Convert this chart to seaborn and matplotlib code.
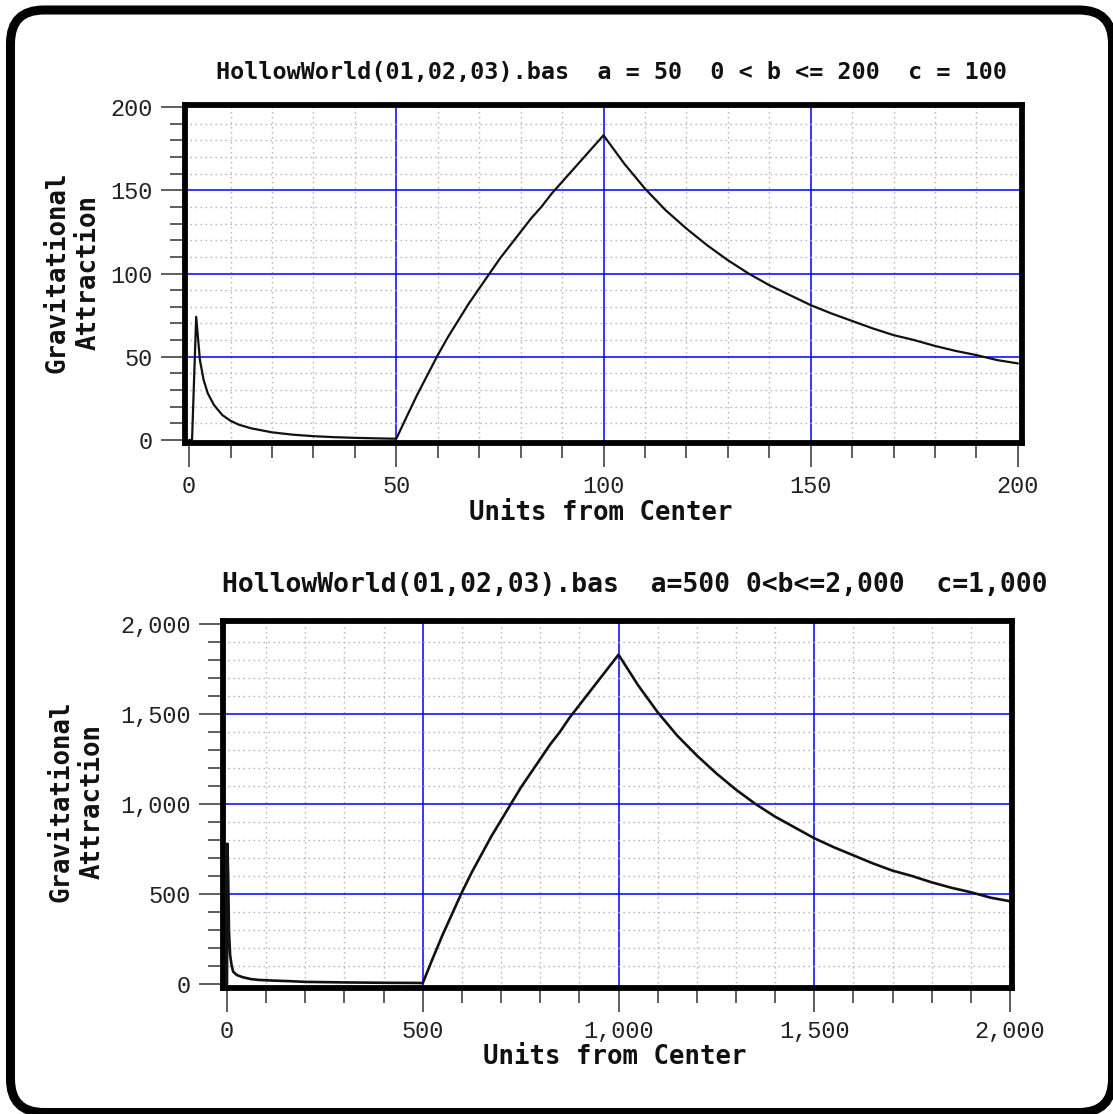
import numpy as np
import pandas as pd
import matplotlib
matplotlib.use("Agg")
import matplotlib.pyplot as plt
import seaborn as sns
from matplotlib.ticker import MultipleLocator, StrMethodFormatter
from matplotlib.patches import FancyBboxPatch

# ---------------- data ----------------
top_title = "HollowWorld(01,02,03).bas  a = 50  0 < b <= 200  c = 100"
bottom_title = "HollowWorld(01,02,03).bas  a=500 0<b<=2,000  c=1,000"
x_label = "Units from Center"
y_label = "Gravitational\nAttraction"

top_x = [0, 0.7, 1.7, 2.6, 3.5, 4.5, 6, 8, 10, 12, 15, 20, 25, 30, 35, 40, 45, 49,
         50, 52.5, 55, 57.5, 60, 62.5, 65, 67.5, 70, 72.5, 75, 77.5, 80, 82.5, 85,
         87.5, 90, 92.5, 95, 97.5, 100,
         105, 110, 115, 120, 125, 130, 135, 140, 145, 150, 155, 160, 165, 170,
         175, 180, 185, 190, 195, 200]
top_y = [0, 0, 74, 48, 36, 28, 21, 15, 11.5, 9.2, 7, 4.6, 3.2, 2.3, 1.7, 1.3, 1.0, 0.8,
         0.8, 14, 27, 39, 51, 62, 72, 82, 91, 100, 109, 117, 125, 133, 140,
         148, 155, 162, 169, 176, 183,
         166, 151, 138, 127, 117, 108, 100, 93, 87, 81, 76, 71.5, 67, 63,
         60, 56.5, 53.5, 51, 48, 46]

bottom_x = [0, 1, 3, 5, 8, 12, 16, 25, 40, 60, 80, 120, 160, 200, 300, 400, 490,
            500, 525, 550, 575, 600, 625, 650, 675, 700, 725, 750, 775, 800, 825,
            850, 875, 900, 925, 950, 975, 1000,
            1050, 1100, 1150, 1200, 1250, 1300, 1350, 1400, 1450, 1500, 1550,
            1600, 1650, 1700, 1750, 1800, 1850, 1900, 1950, 2000]
bottom_y = [0, 780, 600, 300, 160, 100, 68, 50, 38, 28, 23, 19, 16, 12, 9, 7, 6,
            5, 140, 270, 390, 510, 620, 720, 820, 910, 1000, 1090, 1170, 1250, 1330,
            1400, 1480, 1550, 1620, 1690, 1760, 1830,
            1660, 1510, 1380, 1270, 1170, 1080, 1000, 930, 870, 810, 760,
            715, 670, 630, 600, 565, 535, 510, 480, 460]

top_df = pd.DataFrame({"x": top_x, "y": top_y})
bottom_df = pd.DataFrame({"x": bottom_x, "y": bottom_y})

# ---------------- style ----------------
sns.set_style("white")
plt.rcParams["font.family"] = ["DejaVu Sans"]

W, H = 1113, 1114
fig = plt.figure(figsize=(W / 100, H / 100), dpi=100)
fig.patch.set_facecolor("white")

TICK_FONT = "Liberation Mono"
BOLD_FONT = "DejaVu Sans Mono"


def px_axes(left, top, right, bottom):
    return fig.add_axes([left / W, 1 - bottom / H, (right - left) / W, (bottom - top) / H])


def style(ax, xlim, ylim, major, minor, fmt=None):
    ax.set_xlim(*xlim)
    ax.set_ylim(*ylim)
    for axis in (ax.xaxis, ax.yaxis):
        axis.set_major_locator(MultipleLocator(major))
        axis.set_minor_locator(MultipleLocator(minor))
        if fmt:
            axis.set_major_formatter(StrMethodFormatter(fmt))
    ax.set_axisbelow(True)
    ax.grid(which="major", color="#0000ff", lw=1.1, ls="-")
    ax.grid(which="minor", color="#b0b0b0", lw=1.0, ls=(0, (1, 2.6)))
    # hide blue grid lines that coincide with the frame
    for axis, (lo, hi) in ((ax.xaxis, xlim), (ax.yaxis, ylim)):
        locs = [v for v in axis.get_majorticklocs()]
        ticks = axis.get_major_ticks(len(locs))
        for t, v in zip(ticks, locs):
            if abs(v) < 1e-9 or v >= hi - major * 0.05:
                t.gridline.set_visible(False)
    for s in ax.spines.values():
        s.set_linewidth(4.2)
        s.set_color("black")
        s.set_zorder(5)
    ax.tick_params(which="both", bottom=True, left=True, top=False, right=False,
                   direction="out", color="#333333", width=1.1)
    ax.tick_params(which="major", length=17, pad=6, labelsize=17,
                   labelcolor="#222222", labelfontfamily=TICK_FONT)
    ax.tick_params(which="minor", length=11)
    ax.set_xlabel(x_label, fontfamily=BOLD_FONT, fontweight="bold", fontsize=18.5, color="#111111")
    ax.set_ylabel(y_label, fontfamily=BOLD_FONT, fontweight="bold", fontsize=18.5,
                  color="#111111", linespacing=1.25)
    ax.xaxis.label.set_va("center")
    ax.yaxis.label.set_va("center")


# ---------------- top chart ----------------
ax1 = px_axes(185, 104.5, 1022, 443)
sns.lineplot(data=top_df, x="x", y="y", ax=ax1, color="#111111", lw=1.6,
             estimator=None, sort=False)
style(ax1, (-1, 201), (-1.8, 201.5), 50, 10)
ax1.xaxis.set_label_coords(0.497, (443 - 513) / (443 - 104.5))
ax1.yaxis.set_label_coords((73 - 185) / (1022 - 185), 0.505)

# ---------------- bottom chart ----------------
ax2 = px_axes(222.5, 621, 1012, 988)
sns.lineplot(data=bottom_df, x="x", y="y", ax=ax2, color="#111111", lw=1.9,
             estimator=None, sort=False)
style(ax2, (-11.5, 2005), (-22, 2017), 500, 100, fmt="{x:,.0f}")
ax2.xaxis.set_label_coords(0.497, (988 - 1057) / (988 - 621))
ax2.yaxis.set_label_coords((77 - 222.5) / (1012 - 222.5), 0.5095)

# ---------------- titles ----------------
fig.text(611 / W, 1 - 72 / H, top_title, ha="center", va="center",
         fontfamily=BOLD_FONT, fontweight="bold", fontsize=16.8, color="#111111")
fig.text(635 / W, 1 - 585 / H, bottom_title, ha="center", va="center",
         fontfamily=BOLD_FONT, fontweight="bold", fontsize=19, color="#111111")

# ---------------- rounded outer frame ----------------
x0, y0 = 10.5 / W, 1 - 1112.5 / H
x1, y1 = 1112.5 / W, 1 - 10 / H
frame = FancyBboxPatch((x0, y0), x1 - x0, y1 - y0,
                       boxstyle="round,pad=0,rounding_size=0.03",
                       transform=fig.transFigure, fill=False, lw=6.5,
                       ec="black", clip_on=False, zorder=10)
fig.add_artist(frame)

fig.savefig("out.png", dpi=100, facecolor="white")
